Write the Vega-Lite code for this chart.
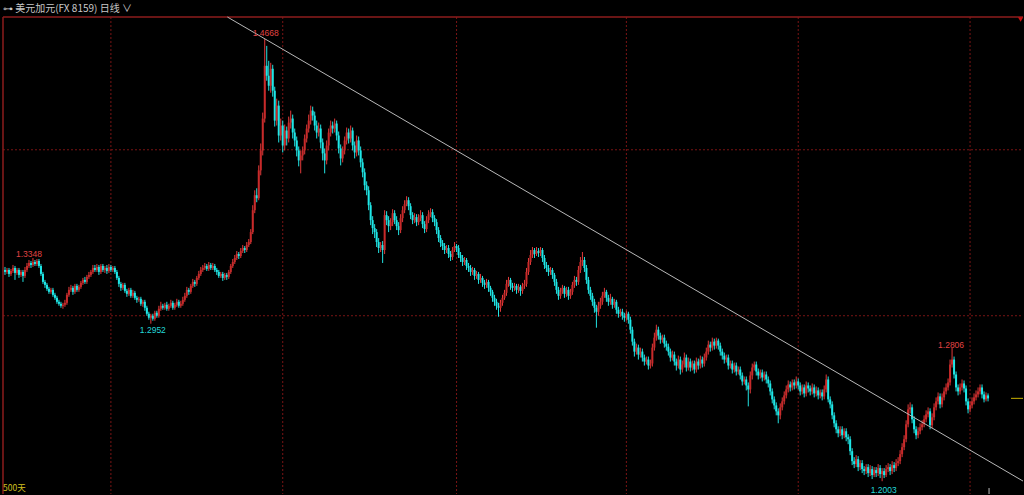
{
"$schema": "https://vega.github.io/schema/vega-lite/v6.json",
"width": 1024, "height": 495,
"autosize": {"type": "fit", "contains": "padding"},
"padding": {"left": 0, "right": 0, "top": 4, "bottom": 0},
"background": "#000000",
"title": {"text": "⊶ 美元加元(FX 8159)   日线 ∨", "anchor": "start", "frame": "group", "fontSize": 10, "font": "Noto Sans CJK SC", "fontWeight": "normal", "color": "#c8c8c8", "offset": 2, "dx": 3},
"config": {"view": {"stroke": null}},
"datasets": {
"k": [
{"i":0,"o":1.3276,"h":1.3294,"l":1.3246,"c":1.3264},
{"i":1,"o":1.3264,"h":1.3288,"l":1.3252,"c":1.3276},
{"i":2,"o":1.3276,"h":1.3288,"l":1.3234,"c":1.3252},
{"i":3,"o":1.3252,"h":1.3282,"l":1.3240,"c":1.3270},
{"i":4,"o":1.3270,"h":1.3306,"l":1.3258,"c":1.3288},
{"i":5,"o":1.3288,"h":1.3300,"l":1.3216,"c":1.3258},
{"i":6,"o":1.3258,"h":1.3288,"l":1.3246,"c":1.3276},
{"i":7,"o":1.3276,"h":1.3288,"l":1.3228,"c":1.3246},
{"i":8,"o":1.3246,"h":1.3276,"l":1.3234,"c":1.3264},
{"i":9,"o":1.3264,"h":1.3276,"l":1.3204,"c":1.3240},
{"i":10,"o":1.3240,"h":1.3294,"l":1.3228,"c":1.3276},
{"i":11,"o":1.3276,"h":1.3318,"l":1.3264,"c":1.3300},
{"i":12,"o":1.3300,"h":1.3336,"l":1.3288,"c":1.3318},
{"i":13,"o":1.3318,"h":1.3330,"l":1.3288,"c":1.3306},
{"i":14,"o":1.3306,"h":1.3348,"l":1.3294,"c":1.3324},
{"i":15,"o":1.3324,"h":1.3336,"l":1.3300,"c":1.3312},
{"i":16,"o":1.3312,"h":1.3342,"l":1.3300,"c":1.3330},
{"i":17,"o":1.3330,"h":1.3342,"l":1.3288,"c":1.3300},
{"i":18,"o":1.3300,"h":1.3312,"l":1.3240,"c":1.3252},
{"i":19,"o":1.3252,"h":1.3264,"l":1.3192,"c":1.3204},
{"i":20,"o":1.3204,"h":1.3216,"l":1.3168,"c":1.3186},
{"i":21,"o":1.3186,"h":1.3198,"l":1.3150,"c":1.3162},
{"i":22,"o":1.3162,"h":1.3174,"l":1.3132,"c":1.3144},
{"i":23,"o":1.3144,"h":1.3168,"l":1.3132,"c":1.3156},
{"i":24,"o":1.3156,"h":1.3168,"l":1.3114,"c":1.3126},
{"i":25,"o":1.3126,"h":1.3138,"l":1.3096,"c":1.3108},
{"i":26,"o":1.3108,"h":1.3120,"l":1.3072,"c":1.3084},
{"i":27,"o":1.3084,"h":1.3096,"l":1.3060,"c":1.3072},
{"i":28,"o":1.3072,"h":1.3084,"l":1.3048,"c":1.3060},
{"i":29,"o":1.3060,"h":1.3078,"l":1.3042,"c":1.3066},
{"i":30,"o":1.3066,"h":1.3096,"l":1.3054,"c":1.3078},
{"i":31,"o":1.3078,"h":1.3138,"l":1.3066,"c":1.3126},
{"i":32,"o":1.3126,"h":1.3174,"l":1.3114,"c":1.3156},
{"i":33,"o":1.3156,"h":1.3186,"l":1.3144,"c":1.3168},
{"i":34,"o":1.3168,"h":1.3180,"l":1.3126,"c":1.3144},
{"i":35,"o":1.3144,"h":1.3192,"l":1.3132,"c":1.3180},
{"i":36,"o":1.3180,"h":1.3192,"l":1.3144,"c":1.3156},
{"i":37,"o":1.3156,"h":1.3186,"l":1.3144,"c":1.3174},
{"i":38,"o":1.3174,"h":1.3210,"l":1.3162,"c":1.3198},
{"i":39,"o":1.3198,"h":1.3228,"l":1.3186,"c":1.3216},
{"i":40,"o":1.3216,"h":1.3234,"l":1.3192,"c":1.3204},
{"i":41,"o":1.3204,"h":1.3246,"l":1.3192,"c":1.3234},
{"i":42,"o":1.3234,"h":1.3264,"l":1.3222,"c":1.3246},
{"i":43,"o":1.3246,"h":1.3276,"l":1.3234,"c":1.3264},
{"i":44,"o":1.3264,"h":1.3306,"l":1.3252,"c":1.3288},
{"i":45,"o":1.3288,"h":1.3306,"l":1.3264,"c":1.3276},
{"i":46,"o":1.3276,"h":1.3312,"l":1.3264,"c":1.3294},
{"i":47,"o":1.3294,"h":1.3306,"l":1.3246,"c":1.3264},
{"i":48,"o":1.3264,"h":1.3312,"l":1.3252,"c":1.3300},
{"i":49,"o":1.3300,"h":1.3312,"l":1.3264,"c":1.3276},
{"i":50,"o":1.3276,"h":1.3300,"l":1.3258,"c":1.3288},
{"i":51,"o":1.3288,"h":1.3306,"l":1.3252,"c":1.3270},
{"i":52,"o":1.3270,"h":1.3312,"l":1.3258,"c":1.3294},
{"i":53,"o":1.3294,"h":1.3306,"l":1.3264,"c":1.3276},
{"i":54,"o":1.3276,"h":1.3300,"l":1.3264,"c":1.3288},
{"i":55,"o":1.3288,"h":1.3300,"l":1.3252,"c":1.3264},
{"i":56,"o":1.3264,"h":1.3276,"l":1.3216,"c":1.3228},
{"i":57,"o":1.3228,"h":1.3240,"l":1.3174,"c":1.3192},
{"i":58,"o":1.3192,"h":1.3204,"l":1.3150,"c":1.3168},
{"i":59,"o":1.3168,"h":1.3198,"l":1.3156,"c":1.3186},
{"i":60,"o":1.3186,"h":1.3198,"l":1.3138,"c":1.3150},
{"i":61,"o":1.3150,"h":1.3162,"l":1.3114,"c":1.3132},
{"i":62,"o":1.3132,"h":1.3168,"l":1.3120,"c":1.3156},
{"i":63,"o":1.3156,"h":1.3168,"l":1.3108,"c":1.3120},
{"i":64,"o":1.3120,"h":1.3156,"l":1.3108,"c":1.3138},
{"i":65,"o":1.3138,"h":1.3150,"l":1.3096,"c":1.3108},
{"i":66,"o":1.3108,"h":1.3120,"l":1.3078,"c":1.3096},
{"i":67,"o":1.3096,"h":1.3114,"l":1.3084,"c":1.3102},
{"i":68,"o":1.3102,"h":1.3114,"l":1.3060,"c":1.3072},
{"i":69,"o":1.3072,"h":1.3096,"l":1.3054,"c":1.3084},
{"i":70,"o":1.3084,"h":1.3096,"l":1.3030,"c":1.3048},
{"i":71,"o":1.3048,"h":1.3060,"l":1.3000,"c":1.3012},
{"i":72,"o":1.3012,"h":1.3024,"l":1.2976,"c":1.2988},
{"i":73,"o":1.2988,"h":1.3012,"l":1.2952,"c":1.3000},
{"i":74,"o":1.3000,"h":1.3012,"l":1.2970,"c":1.2982},
{"i":75,"o":1.2982,"h":1.3030,"l":1.2970,"c":1.3018},
{"i":76,"o":1.3018,"h":1.3030,"l":1.2988,"c":1.3000},
{"i":77,"o":1.3000,"h":1.3060,"l":1.2988,"c":1.3042},
{"i":78,"o":1.3042,"h":1.3084,"l":1.3030,"c":1.3060},
{"i":79,"o":1.3060,"h":1.3072,"l":1.3036,"c":1.3048},
{"i":80,"o":1.3048,"h":1.3078,"l":1.3036,"c":1.3066},
{"i":81,"o":1.3066,"h":1.3084,"l":1.3030,"c":1.3042},
{"i":82,"o":1.3042,"h":1.3072,"l":1.3030,"c":1.3060},
{"i":83,"o":1.3060,"h":1.3096,"l":1.3048,"c":1.3078},
{"i":84,"o":1.3078,"h":1.3090,"l":1.3036,"c":1.3048},
{"i":85,"o":1.3048,"h":1.3078,"l":1.3036,"c":1.3066},
{"i":86,"o":1.3066,"h":1.3102,"l":1.3054,"c":1.3084},
{"i":87,"o":1.3084,"h":1.3096,"l":1.3048,"c":1.3060},
{"i":88,"o":1.3060,"h":1.3090,"l":1.3048,"c":1.3072},
{"i":89,"o":1.3072,"h":1.3114,"l":1.3060,"c":1.3096},
{"i":90,"o":1.3096,"h":1.3138,"l":1.3084,"c":1.3120},
{"i":91,"o":1.3120,"h":1.3174,"l":1.3108,"c":1.3156},
{"i":92,"o":1.3156,"h":1.3168,"l":1.3126,"c":1.3144},
{"i":93,"o":1.3144,"h":1.3192,"l":1.3132,"c":1.3180},
{"i":94,"o":1.3180,"h":1.3222,"l":1.3168,"c":1.3204},
{"i":95,"o":1.3204,"h":1.3216,"l":1.3174,"c":1.3192},
{"i":96,"o":1.3192,"h":1.3240,"l":1.3180,"c":1.3228},
{"i":97,"o":1.3228,"h":1.3270,"l":1.3216,"c":1.3252},
{"i":98,"o":1.3252,"h":1.3294,"l":1.3240,"c":1.3276},
{"i":99,"o":1.3276,"h":1.3306,"l":1.3264,"c":1.3288},
{"i":100,"o":1.3288,"h":1.3318,"l":1.3276,"c":1.3300},
{"i":101,"o":1.3300,"h":1.3312,"l":1.3270,"c":1.3282},
{"i":102,"o":1.3282,"h":1.3324,"l":1.3270,"c":1.3306},
{"i":103,"o":1.3306,"h":1.3318,"l":1.3276,"c":1.3288},
{"i":104,"o":1.3288,"h":1.3318,"l":1.3276,"c":1.3300},
{"i":105,"o":1.3300,"h":1.3312,"l":1.3264,"c":1.3276},
{"i":106,"o":1.3276,"h":1.3288,"l":1.3246,"c":1.3264},
{"i":107,"o":1.3264,"h":1.3276,"l":1.3228,"c":1.3240},
{"i":108,"o":1.3240,"h":1.3264,"l":1.3228,"c":1.3252},
{"i":109,"o":1.3252,"h":1.3264,"l":1.3210,"c":1.3228},
{"i":110,"o":1.3228,"h":1.3258,"l":1.3216,"c":1.3246},
{"i":111,"o":1.3246,"h":1.3258,"l":1.3216,"c":1.3234},
{"i":112,"o":1.3234,"h":1.3276,"l":1.3222,"c":1.3264},
{"i":113,"o":1.3264,"h":1.3312,"l":1.3252,"c":1.3300},
{"i":114,"o":1.3300,"h":1.3342,"l":1.3288,"c":1.3324},
{"i":115,"o":1.3324,"h":1.3366,"l":1.3312,"c":1.3348},
{"i":116,"o":1.3348,"h":1.3390,"l":1.3336,"c":1.3372},
{"i":117,"o":1.3372,"h":1.3384,"l":1.3342,"c":1.3360},
{"i":118,"o":1.3360,"h":1.3408,"l":1.3348,"c":1.3390},
{"i":119,"o":1.3390,"h":1.3426,"l":1.3378,"c":1.3408},
{"i":120,"o":1.3408,"h":1.3420,"l":1.3378,"c":1.3396},
{"i":121,"o":1.3396,"h":1.3444,"l":1.3384,"c":1.3426},
{"i":122,"o":1.3426,"h":1.3462,"l":1.3414,"c":1.3444},
{"i":123,"o":1.3444,"h":1.3522,"l":1.3432,"c":1.3504},
{"i":124,"o":1.3504,"h":1.3666,"l":1.3492,"c":1.3636},
{"i":125,"o":1.3636,"h":1.3756,"l":1.3618,"c":1.3726},
{"i":126,"o":1.3726,"h":1.3768,"l":1.3684,"c":1.3708},
{"i":127,"o":1.3708,"h":1.3906,"l":1.3696,"c":1.3876},
{"i":128,"o":1.3876,"h":1.4038,"l":1.3846,"c":1.3996},
{"i":129,"o":1.3996,"h":1.4224,"l":1.3966,"c":1.4188},
{"i":130,"o":1.4188,"h":1.4668,"l":1.4164,"c":1.4506},
{"i":131,"o":1.4506,"h":1.4626,"l":1.4416,"c":1.4446},
{"i":132,"o":1.4446,"h":1.4536,"l":1.4356,"c":1.4386},
{"i":133,"o":1.4386,"h":1.4524,"l":1.4344,"c":1.4488},
{"i":134,"o":1.4488,"h":1.4512,"l":1.4320,"c":1.4356},
{"i":135,"o":1.4356,"h":1.4380,"l":1.4140,"c":1.4176},
{"i":136,"o":1.4176,"h":1.4308,"l":1.4146,"c":1.4266},
{"i":137,"o":1.4266,"h":1.4296,"l":1.4044,"c":1.4086},
{"i":138,"o":1.4086,"h":1.4188,"l":1.4056,"c":1.4146},
{"i":139,"o":1.4146,"h":1.4176,"l":1.3984,"c":1.4026},
{"i":140,"o":1.4026,"h":1.4152,"l":1.3996,"c":1.4116},
{"i":141,"o":1.4116,"h":1.4140,"l":1.4026,"c":1.4068},
{"i":142,"o":1.4068,"h":1.4200,"l":1.4044,"c":1.4164},
{"i":143,"o":1.4164,"h":1.4236,"l":1.4128,"c":1.4188},
{"i":144,"o":1.4188,"h":1.4212,"l":1.4068,"c":1.4104},
{"i":145,"o":1.4104,"h":1.4128,"l":1.4020,"c":1.4056},
{"i":146,"o":1.4056,"h":1.4080,"l":1.3960,"c":1.3996},
{"i":147,"o":1.3996,"h":1.4020,"l":1.3900,"c":1.3936},
{"i":148,"o":1.3936,"h":1.3996,"l":1.3858,"c":1.3966},
{"i":149,"o":1.3966,"h":1.4020,"l":1.3936,"c":1.3996},
{"i":150,"o":1.3996,"h":1.4092,"l":1.3972,"c":1.4068},
{"i":151,"o":1.4068,"h":1.4152,"l":1.4044,"c":1.4128},
{"i":152,"o":1.4128,"h":1.4212,"l":1.4104,"c":1.4176},
{"i":153,"o":1.4176,"h":1.4266,"l":1.4152,"c":1.4236},
{"i":154,"o":1.4236,"h":1.4260,"l":1.4176,"c":1.4206},
{"i":155,"o":1.4206,"h":1.4230,"l":1.4116,"c":1.4146},
{"i":156,"o":1.4146,"h":1.4176,"l":1.4068,"c":1.4104},
{"i":157,"o":1.4104,"h":1.4164,"l":1.4080,"c":1.4128},
{"i":158,"o":1.4128,"h":1.4152,"l":1.4008,"c":1.4044},
{"i":159,"o":1.4044,"h":1.4068,"l":1.3936,"c":1.3978},
{"i":160,"o":1.3978,"h":1.4008,"l":1.3858,"c":1.3936},
{"i":161,"o":1.3936,"h":1.4056,"l":1.3912,"c":1.4026},
{"i":162,"o":1.4026,"h":1.4128,"l":1.3996,"c":1.4104},
{"i":163,"o":1.4104,"h":1.4176,"l":1.4080,"c":1.4146},
{"i":164,"o":1.4146,"h":1.4170,"l":1.4098,"c":1.4128},
{"i":165,"o":1.4128,"h":1.4188,"l":1.4104,"c":1.4158},
{"i":166,"o":1.4158,"h":1.4176,"l":1.4056,"c":1.4086},
{"i":167,"o":1.4086,"h":1.4110,"l":1.3978,"c":1.4008},
{"i":168,"o":1.4008,"h":1.4032,"l":1.3906,"c":1.3948},
{"i":169,"o":1.3948,"h":1.4020,"l":1.3924,"c":1.3996},
{"i":170,"o":1.3996,"h":1.4080,"l":1.3972,"c":1.4056},
{"i":171,"o":1.4056,"h":1.4134,"l":1.4032,"c":1.4104},
{"i":172,"o":1.4104,"h":1.4128,"l":1.4038,"c":1.4068},
{"i":173,"o":1.4068,"h":1.4146,"l":1.4044,"c":1.4116},
{"i":174,"o":1.4116,"h":1.4134,"l":1.3996,"c":1.4026},
{"i":175,"o":1.4026,"h":1.4050,"l":1.3948,"c":1.3984},
{"i":176,"o":1.3984,"h":1.4086,"l":1.3960,"c":1.4056},
{"i":177,"o":1.4056,"h":1.4080,"l":1.3966,"c":1.3996},
{"i":178,"o":1.3996,"h":1.4020,"l":1.3894,"c":1.3924},
{"i":179,"o":1.3924,"h":1.3948,"l":1.3834,"c":1.3864},
{"i":180,"o":1.3864,"h":1.3888,"l":1.3756,"c":1.3786},
{"i":181,"o":1.3786,"h":1.3810,"l":1.3726,"c":1.3756},
{"i":182,"o":1.3756,"h":1.3780,"l":1.3636,"c":1.3666},
{"i":183,"o":1.3666,"h":1.3684,"l":1.3546,"c":1.3576},
{"i":184,"o":1.3576,"h":1.3600,"l":1.3492,"c":1.3528},
{"i":185,"o":1.3528,"h":1.3552,"l":1.3468,"c":1.3504},
{"i":186,"o":1.3504,"h":1.3522,"l":1.3414,"c":1.3444},
{"i":187,"o":1.3444,"h":1.3468,"l":1.3378,"c":1.3408},
{"i":188,"o":1.3408,"h":1.3444,"l":1.3384,"c":1.3426},
{"i":189,"o":1.3426,"h":1.3450,"l":1.3318,"c":1.3396},
{"i":190,"o":1.3396,"h":1.3636,"l":1.3372,"c":1.3606},
{"i":191,"o":1.3606,"h":1.3630,"l":1.3546,"c":1.3576},
{"i":192,"o":1.3576,"h":1.3600,"l":1.3504,"c":1.3540},
{"i":193,"o":1.3540,"h":1.3588,"l":1.3516,"c":1.3564},
{"i":194,"o":1.3564,"h":1.3642,"l":1.3540,"c":1.3618},
{"i":195,"o":1.3618,"h":1.3636,"l":1.3552,"c":1.3576},
{"i":196,"o":1.3576,"h":1.3600,"l":1.3516,"c":1.3540},
{"i":197,"o":1.3540,"h":1.3564,"l":1.3486,"c":1.3516},
{"i":198,"o":1.3516,"h":1.3612,"l":1.3498,"c":1.3588},
{"i":199,"o":1.3588,"h":1.3660,"l":1.3564,"c":1.3636},
{"i":200,"o":1.3636,"h":1.3696,"l":1.3618,"c":1.3672},
{"i":201,"o":1.3672,"h":1.3720,"l":1.3660,"c":1.3696},
{"i":202,"o":1.3696,"h":1.3714,"l":1.3636,"c":1.3660},
{"i":203,"o":1.3660,"h":1.3678,"l":1.3582,"c":1.3606},
{"i":204,"o":1.3606,"h":1.3624,"l":1.3552,"c":1.3576},
{"i":205,"o":1.3576,"h":1.3618,"l":1.3558,"c":1.3594},
{"i":206,"o":1.3594,"h":1.3612,"l":1.3540,"c":1.3564},
{"i":207,"o":1.3564,"h":1.3612,"l":1.3546,"c":1.3588},
{"i":208,"o":1.3588,"h":1.3636,"l":1.3570,"c":1.3606},
{"i":209,"o":1.3606,"h":1.3624,"l":1.3528,"c":1.3552},
{"i":210,"o":1.3552,"h":1.3570,"l":1.3498,"c":1.3522},
{"i":211,"o":1.3522,"h":1.3600,"l":1.3504,"c":1.3576},
{"i":212,"o":1.3576,"h":1.3636,"l":1.3558,"c":1.3612},
{"i":213,"o":1.3612,"h":1.3648,"l":1.3594,"c":1.3624},
{"i":214,"o":1.3624,"h":1.3642,"l":1.3564,"c":1.3588},
{"i":215,"o":1.3588,"h":1.3606,"l":1.3540,"c":1.3564},
{"i":216,"o":1.3564,"h":1.3582,"l":1.3492,"c":1.3516},
{"i":217,"o":1.3516,"h":1.3534,"l":1.3444,"c":1.3468},
{"i":218,"o":1.3468,"h":1.3486,"l":1.3414,"c":1.3438},
{"i":219,"o":1.3438,"h":1.3456,"l":1.3396,"c":1.3420},
{"i":220,"o":1.3420,"h":1.3438,"l":1.3372,"c":1.3396},
{"i":221,"o":1.3396,"h":1.3426,"l":1.3378,"c":1.3408},
{"i":222,"o":1.3408,"h":1.3426,"l":1.3348,"c":1.3372},
{"i":223,"o":1.3372,"h":1.3390,"l":1.3330,"c":1.3354},
{"i":224,"o":1.3354,"h":1.3414,"l":1.3336,"c":1.3396},
{"i":225,"o":1.3396,"h":1.3444,"l":1.3384,"c":1.3420},
{"i":226,"o":1.3420,"h":1.3432,"l":1.3384,"c":1.3408},
{"i":227,"o":1.3408,"h":1.3426,"l":1.3348,"c":1.3366},
{"i":228,"o":1.3366,"h":1.3384,"l":1.3324,"c":1.3348},
{"i":229,"o":1.3348,"h":1.3366,"l":1.3300,"c":1.3324},
{"i":230,"o":1.3324,"h":1.3354,"l":1.3306,"c":1.3336},
{"i":231,"o":1.3336,"h":1.3348,"l":1.3276,"c":1.3300},
{"i":232,"o":1.3300,"h":1.3318,"l":1.3264,"c":1.3288},
{"i":233,"o":1.3288,"h":1.3306,"l":1.3240,"c":1.3264},
{"i":234,"o":1.3264,"h":1.3294,"l":1.3246,"c":1.3276},
{"i":235,"o":1.3276,"h":1.3288,"l":1.3216,"c":1.3240},
{"i":236,"o":1.3240,"h":1.3270,"l":1.3222,"c":1.3252},
{"i":237,"o":1.3252,"h":1.3264,"l":1.3192,"c":1.3216},
{"i":238,"o":1.3216,"h":1.3252,"l":1.3198,"c":1.3228},
{"i":239,"o":1.3228,"h":1.3240,"l":1.3174,"c":1.3198},
{"i":240,"o":1.3198,"h":1.3216,"l":1.3162,"c":1.3186},
{"i":241,"o":1.3186,"h":1.3222,"l":1.3168,"c":1.3204},
{"i":242,"o":1.3204,"h":1.3216,"l":1.3144,"c":1.3168},
{"i":243,"o":1.3168,"h":1.3180,"l":1.3120,"c":1.3144},
{"i":244,"o":1.3144,"h":1.3156,"l":1.3084,"c":1.3108},
{"i":245,"o":1.3108,"h":1.3126,"l":1.3060,"c":1.3084},
{"i":246,"o":1.3084,"h":1.3102,"l":1.3036,"c":1.3060},
{"i":247,"o":1.3060,"h":1.3078,"l":1.2994,"c":1.3048},
{"i":248,"o":1.3048,"h":1.3096,"l":1.3024,"c":1.3078},
{"i":249,"o":1.3078,"h":1.3126,"l":1.3060,"c":1.3108},
{"i":250,"o":1.3108,"h":1.3156,"l":1.3096,"c":1.3138},
{"i":251,"o":1.3138,"h":1.3216,"l":1.3120,"c":1.3192},
{"i":252,"o":1.3192,"h":1.3234,"l":1.3174,"c":1.3216},
{"i":253,"o":1.3216,"h":1.3228,"l":1.3156,"c":1.3180},
{"i":254,"o":1.3180,"h":1.3198,"l":1.3144,"c":1.3168},
{"i":255,"o":1.3168,"h":1.3198,"l":1.3150,"c":1.3180},
{"i":256,"o":1.3180,"h":1.3192,"l":1.3132,"c":1.3156},
{"i":257,"o":1.3156,"h":1.3192,"l":1.3138,"c":1.3174},
{"i":258,"o":1.3174,"h":1.3186,"l":1.3120,"c":1.3150},
{"i":259,"o":1.3150,"h":1.3198,"l":1.3132,"c":1.3180},
{"i":260,"o":1.3180,"h":1.3216,"l":1.3162,"c":1.3192},
{"i":261,"o":1.3192,"h":1.3288,"l":1.3174,"c":1.3264},
{"i":262,"o":1.3264,"h":1.3348,"l":1.3246,"c":1.3324},
{"i":263,"o":1.3324,"h":1.3396,"l":1.3306,"c":1.3366},
{"i":264,"o":1.3366,"h":1.3414,"l":1.3348,"c":1.3396},
{"i":265,"o":1.3396,"h":1.3408,"l":1.3348,"c":1.3372},
{"i":266,"o":1.3372,"h":1.3414,"l":1.3360,"c":1.3390},
{"i":267,"o":1.3390,"h":1.3408,"l":1.3354,"c":1.3378},
{"i":268,"o":1.3378,"h":1.3414,"l":1.3360,"c":1.3396},
{"i":269,"o":1.3396,"h":1.3408,"l":1.3324,"c":1.3348},
{"i":270,"o":1.3348,"h":1.3366,"l":1.3282,"c":1.3306},
{"i":271,"o":1.3306,"h":1.3324,"l":1.3264,"c":1.3288},
{"i":272,"o":1.3288,"h":1.3306,"l":1.3240,"c":1.3264},
{"i":273,"o":1.3264,"h":1.3294,"l":1.3246,"c":1.3276},
{"i":274,"o":1.3276,"h":1.3288,"l":1.3222,"c":1.3246},
{"i":275,"o":1.3246,"h":1.3258,"l":1.3180,"c":1.3204},
{"i":276,"o":1.3204,"h":1.3222,"l":1.3132,"c":1.3156},
{"i":277,"o":1.3156,"h":1.3174,"l":1.3096,"c":1.3120},
{"i":278,"o":1.3120,"h":1.3168,"l":1.3102,"c":1.3144},
{"i":279,"o":1.3144,"h":1.3186,"l":1.3132,"c":1.3168},
{"i":280,"o":1.3168,"h":1.3180,"l":1.3108,"c":1.3132},
{"i":281,"o":1.3132,"h":1.3174,"l":1.3114,"c":1.3156},
{"i":282,"o":1.3156,"h":1.3174,"l":1.3096,"c":1.3120},
{"i":283,"o":1.3120,"h":1.3162,"l":1.3102,"c":1.3144},
{"i":284,"o":1.3144,"h":1.3204,"l":1.3126,"c":1.3186},
{"i":285,"o":1.3186,"h":1.3240,"l":1.3168,"c":1.3216},
{"i":286,"o":1.3216,"h":1.3234,"l":1.3180,"c":1.3204},
{"i":287,"o":1.3204,"h":1.3300,"l":1.3186,"c":1.3276},
{"i":288,"o":1.3276,"h":1.3354,"l":1.3258,"c":1.3324},
{"i":289,"o":1.3324,"h":1.3384,"l":1.3300,"c":1.3336},
{"i":290,"o":1.3336,"h":1.3354,"l":1.3264,"c":1.3288},
{"i":291,"o":1.3288,"h":1.3306,"l":1.3192,"c":1.3216},
{"i":292,"o":1.3216,"h":1.3234,"l":1.3132,"c":1.3156},
{"i":293,"o":1.3156,"h":1.3174,"l":1.3096,"c":1.3120},
{"i":294,"o":1.3120,"h":1.3138,"l":1.3060,"c":1.3084},
{"i":295,"o":1.3084,"h":1.3102,"l":1.3018,"c":1.3048},
{"i":296,"o":1.3048,"h":1.3066,"l":1.2928,"c":1.3024},
{"i":297,"o":1.3024,"h":1.3084,"l":1.3000,"c":1.3060},
{"i":298,"o":1.3060,"h":1.3108,"l":1.3042,"c":1.3084},
{"i":299,"o":1.3084,"h":1.3144,"l":1.3066,"c":1.3120},
{"i":300,"o":1.3120,"h":1.3168,"l":1.3108,"c":1.3144},
{"i":301,"o":1.3144,"h":1.3156,"l":1.3084,"c":1.3108},
{"i":302,"o":1.3108,"h":1.3126,"l":1.3060,"c":1.3084},
{"i":303,"o":1.3084,"h":1.3132,"l":1.3066,"c":1.3102},
{"i":304,"o":1.3102,"h":1.3114,"l":1.3042,"c":1.3066},
{"i":305,"o":1.3066,"h":1.3102,"l":1.3048,"c":1.3084},
{"i":306,"o":1.3084,"h":1.3096,"l":1.3012,"c":1.3036},
{"i":307,"o":1.3036,"h":1.3054,"l":1.2988,"c":1.3012},
{"i":308,"o":1.3012,"h":1.3042,"l":1.2994,"c":1.3024},
{"i":309,"o":1.3024,"h":1.3042,"l":1.2976,"c":1.3000},
{"i":310,"o":1.3000,"h":1.3018,"l":1.2964,"c":1.2988},
{"i":311,"o":1.2988,"h":1.3030,"l":1.2970,"c":1.3012},
{"i":312,"o":1.3012,"h":1.3024,"l":1.2952,"c":1.2976},
{"i":313,"o":1.2976,"h":1.2994,"l":1.2892,"c":1.2916},
{"i":314,"o":1.2916,"h":1.2934,"l":1.2820,"c":1.2844},
{"i":315,"o":1.2844,"h":1.2862,"l":1.2754,"c":1.2784},
{"i":316,"o":1.2784,"h":1.2832,"l":1.2766,"c":1.2808},
{"i":317,"o":1.2808,"h":1.2826,"l":1.2736,"c":1.2766},
{"i":318,"o":1.2766,"h":1.2808,"l":1.2748,"c":1.2784},
{"i":319,"o":1.2784,"h":1.2802,"l":1.2724,"c":1.2748},
{"i":320,"o":1.2748,"h":1.2766,"l":1.2700,"c":1.2724},
{"i":321,"o":1.2724,"h":1.2754,"l":1.2706,"c":1.2736},
{"i":322,"o":1.2736,"h":1.2754,"l":1.2676,"c":1.2700},
{"i":323,"o":1.2700,"h":1.2736,"l":1.2682,"c":1.2712},
{"i":324,"o":1.2712,"h":1.2832,"l":1.2694,"c":1.2808},
{"i":325,"o":1.2808,"h":1.2898,"l":1.2790,"c":1.2868},
{"i":326,"o":1.2868,"h":1.2946,"l":1.2850,"c":1.2916},
{"i":327,"o":1.2916,"h":1.2934,"l":1.2856,"c":1.2880},
{"i":328,"o":1.2880,"h":1.2898,"l":1.2832,"c":1.2856},
{"i":329,"o":1.2856,"h":1.2886,"l":1.2838,"c":1.2868},
{"i":330,"o":1.2868,"h":1.2886,"l":1.2808,"c":1.2832},
{"i":331,"o":1.2832,"h":1.2850,"l":1.2790,"c":1.2814},
{"i":332,"o":1.2814,"h":1.2832,"l":1.2760,"c":1.2784},
{"i":333,"o":1.2784,"h":1.2802,"l":1.2724,"c":1.2748},
{"i":334,"o":1.2748,"h":1.2790,"l":1.2730,"c":1.2766},
{"i":335,"o":1.2766,"h":1.2784,"l":1.2700,"c":1.2724},
{"i":336,"o":1.2724,"h":1.2742,"l":1.2670,"c":1.2700},
{"i":337,"o":1.2700,"h":1.2760,"l":1.2682,"c":1.2736},
{"i":338,"o":1.2736,"h":1.2754,"l":1.2646,"c":1.2676},
{"i":339,"o":1.2676,"h":1.2730,"l":1.2658,"c":1.2706},
{"i":340,"o":1.2706,"h":1.2778,"l":1.2688,"c":1.2748},
{"i":341,"o":1.2748,"h":1.2766,"l":1.2664,"c":1.2688},
{"i":342,"o":1.2688,"h":1.2748,"l":1.2670,"c":1.2724},
{"i":343,"o":1.2724,"h":1.2742,"l":1.2664,"c":1.2688},
{"i":344,"o":1.2688,"h":1.2730,"l":1.2670,"c":1.2712},
{"i":345,"o":1.2712,"h":1.2730,"l":1.2652,"c":1.2676},
{"i":346,"o":1.2676,"h":1.2748,"l":1.2658,"c":1.2724},
{"i":347,"o":1.2724,"h":1.2742,"l":1.2676,"c":1.2700},
{"i":348,"o":1.2700,"h":1.2760,"l":1.2682,"c":1.2736},
{"i":349,"o":1.2736,"h":1.2754,"l":1.2688,"c":1.2712},
{"i":350,"o":1.2712,"h":1.2772,"l":1.2694,"c":1.2748},
{"i":351,"o":1.2748,"h":1.2808,"l":1.2730,"c":1.2784},
{"i":352,"o":1.2784,"h":1.2850,"l":1.2766,"c":1.2826},
{"i":353,"o":1.2826,"h":1.2844,"l":1.2784,"c":1.2808},
{"i":354,"o":1.2808,"h":1.2868,"l":1.2790,"c":1.2844},
{"i":355,"o":1.2844,"h":1.2862,"l":1.2796,"c":1.2820},
{"i":356,"o":1.2820,"h":1.2868,"l":1.2802,"c":1.2850},
{"i":357,"o":1.2850,"h":1.2862,"l":1.2796,"c":1.2820},
{"i":358,"o":1.2820,"h":1.2838,"l":1.2760,"c":1.2784},
{"i":359,"o":1.2784,"h":1.2802,"l":1.2736,"c":1.2760},
{"i":360,"o":1.2760,"h":1.2778,"l":1.2712,"c":1.2736},
{"i":361,"o":1.2736,"h":1.2766,"l":1.2718,"c":1.2748},
{"i":362,"o":1.2748,"h":1.2766,"l":1.2676,"c":1.2700},
{"i":363,"o":1.2700,"h":1.2730,"l":1.2682,"c":1.2712},
{"i":364,"o":1.2712,"h":1.2730,"l":1.2652,"c":1.2676},
{"i":365,"o":1.2676,"h":1.2718,"l":1.2658,"c":1.2700},
{"i":366,"o":1.2700,"h":1.2718,"l":1.2640,"c":1.2664},
{"i":367,"o":1.2664,"h":1.2694,"l":1.2646,"c":1.2676},
{"i":368,"o":1.2676,"h":1.2694,"l":1.2616,"c":1.2640},
{"i":369,"o":1.2640,"h":1.2658,"l":1.2580,"c":1.2604},
{"i":370,"o":1.2604,"h":1.2634,"l":1.2586,"c":1.2616},
{"i":371,"o":1.2616,"h":1.2634,"l":1.2550,"c":1.2580},
{"i":372,"o":1.2580,"h":1.2598,"l":1.2454,"c":1.2556},
{"i":373,"o":1.2556,"h":1.2664,"l":1.2532,"c":1.2640},
{"i":374,"o":1.2640,"h":1.2712,"l":1.2616,"c":1.2688},
{"i":375,"o":1.2688,"h":1.2724,"l":1.2670,"c":1.2706},
{"i":376,"o":1.2706,"h":1.2724,"l":1.2640,"c":1.2664},
{"i":377,"o":1.2664,"h":1.2682,"l":1.2616,"c":1.2640},
{"i":378,"o":1.2640,"h":1.2676,"l":1.2622,"c":1.2658},
{"i":379,"o":1.2658,"h":1.2676,"l":1.2604,"c":1.2628},
{"i":380,"o":1.2628,"h":1.2664,"l":1.2610,"c":1.2646},
{"i":381,"o":1.2646,"h":1.2664,"l":1.2592,"c":1.2616},
{"i":382,"o":1.2616,"h":1.2634,"l":1.2568,"c":1.2592},
{"i":383,"o":1.2592,"h":1.2610,"l":1.2520,"c":1.2544},
{"i":384,"o":1.2544,"h":1.2562,"l":1.2472,"c":1.2496},
{"i":385,"o":1.2496,"h":1.2514,"l":1.2436,"c":1.2460},
{"i":386,"o":1.2460,"h":1.2478,"l":1.2400,"c":1.2424},
{"i":387,"o":1.2424,"h":1.2442,"l":1.2352,"c":1.2400},
{"i":388,"o":1.2400,"h":1.2472,"l":1.2376,"c":1.2448},
{"i":389,"o":1.2448,"h":1.2508,"l":1.2430,"c":1.2484},
{"i":390,"o":1.2484,"h":1.2544,"l":1.2466,"c":1.2520},
{"i":391,"o":1.2520,"h":1.2580,"l":1.2502,"c":1.2556},
{"i":392,"o":1.2556,"h":1.2610,"l":1.2538,"c":1.2586},
{"i":393,"o":1.2586,"h":1.2604,"l":1.2544,"c":1.2568},
{"i":394,"o":1.2568,"h":1.2616,"l":1.2550,"c":1.2598},
{"i":395,"o":1.2598,"h":1.2616,"l":1.2556,"c":1.2580},
{"i":396,"o":1.2580,"h":1.2634,"l":1.2562,"c":1.2604},
{"i":397,"o":1.2604,"h":1.2622,"l":1.2556,"c":1.2580},
{"i":398,"o":1.2580,"h":1.2598,"l":1.2520,"c":1.2544},
{"i":399,"o":1.2544,"h":1.2586,"l":1.2526,"c":1.2568},
{"i":400,"o":1.2568,"h":1.2586,"l":1.2508,"c":1.2532},
{"i":401,"o":1.2532,"h":1.2604,"l":1.2514,"c":1.2580},
{"i":402,"o":1.2580,"h":1.2598,"l":1.2538,"c":1.2562},
{"i":403,"o":1.2562,"h":1.2580,"l":1.2520,"c":1.2544},
{"i":404,"o":1.2544,"h":1.2592,"l":1.2526,"c":1.2568},
{"i":405,"o":1.2568,"h":1.2586,"l":1.2508,"c":1.2532},
{"i":406,"o":1.2532,"h":1.2574,"l":1.2514,"c":1.2550},
{"i":407,"o":1.2550,"h":1.2568,"l":1.2496,"c":1.2520},
{"i":408,"o":1.2520,"h":1.2556,"l":1.2502,"c":1.2538},
{"i":409,"o":1.2538,"h":1.2556,"l":1.2490,"c":1.2514},
{"i":410,"o":1.2514,"h":1.2580,"l":1.2496,"c":1.2556},
{"i":411,"o":1.2556,"h":1.2646,"l":1.2538,"c":1.2616},
{"i":412,"o":1.2616,"h":1.2634,"l":1.2478,"c":1.2496},
{"i":413,"o":1.2496,"h":1.2514,"l":1.2442,"c":1.2466},
{"i":414,"o":1.2466,"h":1.2484,"l":1.2376,"c":1.2400},
{"i":415,"o":1.2400,"h":1.2418,"l":1.2328,"c":1.2352},
{"i":416,"o":1.2352,"h":1.2370,"l":1.2292,"c":1.2316},
{"i":417,"o":1.2316,"h":1.2334,"l":1.2268,"c":1.2292},
{"i":418,"o":1.2292,"h":1.2334,"l":1.2274,"c":1.2316},
{"i":419,"o":1.2316,"h":1.2334,"l":1.2256,"c":1.2280},
{"i":420,"o":1.2280,"h":1.2322,"l":1.2262,"c":1.2304},
{"i":421,"o":1.2304,"h":1.2322,"l":1.2244,"c":1.2268},
{"i":422,"o":1.2268,"h":1.2286,"l":1.2226,"c":1.2256},
{"i":423,"o":1.2256,"h":1.2274,"l":1.2160,"c":1.2184},
{"i":424,"o":1.2184,"h":1.2202,"l":1.2100,"c":1.2124},
{"i":425,"o":1.2124,"h":1.2148,"l":1.2082,"c":1.2106},
{"i":426,"o":1.2106,"h":1.2160,"l":1.2088,"c":1.2136},
{"i":427,"o":1.2136,"h":1.2154,"l":1.2064,"c":1.2088},
{"i":428,"o":1.2088,"h":1.2130,"l":1.2070,"c":1.2112},
{"i":429,"o":1.2112,"h":1.2130,"l":1.2052,"c":1.2076},
{"i":430,"o":1.2076,"h":1.2094,"l":1.2040,"c":1.2064},
{"i":431,"o":1.2064,"h":1.2106,"l":1.2046,"c":1.2088},
{"i":432,"o":1.2088,"h":1.2106,"l":1.2028,"c":1.2052},
{"i":433,"o":1.2052,"h":1.2100,"l":1.2034,"c":1.2076},
{"i":434,"o":1.2076,"h":1.2094,"l":1.2016,"c":1.2040},
{"i":435,"o":1.2040,"h":1.2088,"l":1.2028,"c":1.2070},
{"i":436,"o":1.2070,"h":1.2088,"l":1.2028,"c":1.2052},
{"i":437,"o":1.2052,"h":1.2106,"l":1.2034,"c":1.2082},
{"i":438,"o":1.2082,"h":1.2100,"l":1.2022,"c":1.2046},
{"i":439,"o":1.2046,"h":1.2082,"l":1.2003,"c":1.2064},
{"i":440,"o":1.2064,"h":1.2082,"l":1.2022,"c":1.2040},
{"i":441,"o":1.2040,"h":1.2100,"l":1.2028,"c":1.2076},
{"i":442,"o":1.2076,"h":1.2112,"l":1.2058,"c":1.2088},
{"i":443,"o":1.2088,"h":1.2106,"l":1.2040,"c":1.2064},
{"i":444,"o":1.2064,"h":1.2124,"l":1.2046,"c":1.2100},
{"i":445,"o":1.2100,"h":1.2118,"l":1.2058,"c":1.2082},
{"i":446,"o":1.2082,"h":1.2136,"l":1.2064,"c":1.2112},
{"i":447,"o":1.2112,"h":1.2148,"l":1.2094,"c":1.2124},
{"i":448,"o":1.2124,"h":1.2190,"l":1.2106,"c":1.2166},
{"i":449,"o":1.2166,"h":1.2232,"l":1.2148,"c":1.2208},
{"i":450,"o":1.2208,"h":1.2280,"l":1.2190,"c":1.2256},
{"i":451,"o":1.2256,"h":1.2370,"l":1.2238,"c":1.2346},
{"i":452,"o":1.2346,"h":1.2466,"l":1.2328,"c":1.2436},
{"i":453,"o":1.2436,"h":1.2478,"l":1.2412,"c":1.2448},
{"i":454,"o":1.2448,"h":1.2466,"l":1.2352,"c":1.2376},
{"i":455,"o":1.2376,"h":1.2394,"l":1.2292,"c":1.2316},
{"i":456,"o":1.2316,"h":1.2334,"l":1.2256,"c":1.2280},
{"i":457,"o":1.2280,"h":1.2328,"l":1.2262,"c":1.2304},
{"i":458,"o":1.2304,"h":1.2352,"l":1.2286,"c":1.2328},
{"i":459,"o":1.2328,"h":1.2370,"l":1.2310,"c":1.2346},
{"i":460,"o":1.2346,"h":1.2400,"l":1.2328,"c":1.2376},
{"i":461,"o":1.2376,"h":1.2430,"l":1.2358,"c":1.2406},
{"i":462,"o":1.2406,"h":1.2448,"l":1.2388,"c":1.2424},
{"i":463,"o":1.2424,"h":1.2442,"l":1.2316,"c":1.2340},
{"i":464,"o":1.2340,"h":1.2412,"l":1.2322,"c":1.2388},
{"i":465,"o":1.2388,"h":1.2472,"l":1.2370,"c":1.2448},
{"i":466,"o":1.2448,"h":1.2508,"l":1.2430,"c":1.2484},
{"i":467,"o":1.2484,"h":1.2538,"l":1.2466,"c":1.2514},
{"i":468,"o":1.2514,"h":1.2532,"l":1.2442,"c":1.2466},
{"i":469,"o":1.2466,"h":1.2532,"l":1.2448,"c":1.2508},
{"i":470,"o":1.2508,"h":1.2568,"l":1.2490,"c":1.2544},
{"i":471,"o":1.2544,"h":1.2592,"l":1.2526,"c":1.2568},
{"i":472,"o":1.2568,"h":1.2622,"l":1.2550,"c":1.2598},
{"i":473,"o":1.2598,"h":1.2736,"l":1.2580,"c":1.2706},
{"i":474,"o":1.2706,"h":1.2806,"l":1.2688,"c":1.2736},
{"i":475,"o":1.2736,"h":1.2754,"l":1.2622,"c":1.2646},
{"i":476,"o":1.2646,"h":1.2664,"l":1.2544,"c":1.2568},
{"i":477,"o":1.2568,"h":1.2586,"l":1.2520,"c":1.2544},
{"i":478,"o":1.2544,"h":1.2592,"l":1.2526,"c":1.2568},
{"i":479,"o":1.2568,"h":1.2616,"l":1.2550,"c":1.2592},
{"i":480,"o":1.2592,"h":1.2610,"l":1.2538,"c":1.2562},
{"i":481,"o":1.2562,"h":1.2580,"l":1.2460,"c":1.2484},
{"i":482,"o":1.2484,"h":1.2502,"l":1.2412,"c":1.2436},
{"i":483,"o":1.2436,"h":1.2484,"l":1.2418,"c":1.2460},
{"i":484,"o":1.2460,"h":1.2508,"l":1.2442,"c":1.2484},
{"i":485,"o":1.2484,"h":1.2532,"l":1.2466,"c":1.2508},
{"i":486,"o":1.2508,"h":1.2550,"l":1.2490,"c":1.2526},
{"i":487,"o":1.2526,"h":1.2568,"l":1.2508,"c":1.2544},
{"i":488,"o":1.2544,"h":1.2586,"l":1.2526,"c":1.2568},
{"i":489,"o":1.2568,"h":1.2586,"l":1.2502,"c":1.2526},
{"i":490,"o":1.2526,"h":1.2544,"l":1.2478,"c":1.2496},
{"i":491,"o":1.2496,"h":1.2538,"l":1.2484,"c":1.2520},
{"i":492,"o":1.2520,"h":1.2532,"l":1.2484,"c":1.2502}
],
"lbl": [
{"i":130.5,"p":1.4704,"t":"1.4668","d":"up"},
{"i":12,"p":1.3375,"t":"1.3348","d":"up"},
{"i":74,"p":1.2916,"t":"1.2952","d":"down"},
{"i":439.75,"p":1.1953,"t":"1.2003","d":"down"},
{"i":473.5,"p":1.2826,"t":"1.2806","d":"up"}
],
"hg": [{"p":1.4},{"p":1.3}],
"vg": [{"g":53},{"g":139},{"g":226},{"g":311},{"g":397},{"g":483}],
"one": [{}]
},
"encoding": {
"x": {"type": "quantitative", "scale": {"domain": [-2.5, 509.5], "nice": false, "zero": false}, "axis": null},
"y": {"type": "quantitative", "scale": {"domain": [1.1926, 1.48], "nice": false, "zero": false}, "axis": null}
},
"layer": [
{"data": {"name": "hg"}, "mark": {"type": "rule", "color": "#7a1414", "strokeWidth": 1, "strokeDash": [2, 2]},
 "encoding": {"y": {"field": "p", "type": "quantitative"}, "x": {"datum": -1}, "x2": {"datum": 509.5}}},
{"data": {"name": "vg"}, "mark": {"type": "rule", "color": "#7a1414", "strokeWidth": 1, "strokeDash": [2, 2]},
 "encoding": {"x": {"field": "g", "type": "quantitative"}, "y": {"datum": 1.48}, "y2": {"datum": 1.1926}}},
{"data": {"name": "one"}, "mark": {"type": "rule", "color": "#8c1c1c", "strokeWidth": 1.5},
 "encoding": {"y": {"datum": 1.48}, "x": {"datum": -1}, "x2": {"datum": 509.5}}},
{"data": {"name": "one"}, "mark": {"type": "rule", "color": "#8c1c1c", "strokeWidth": 1.5},
 "encoding": {"x": {"datum": -1}, "y": {"datum": 1.48}, "y2": {"datum": 1.1926}}},
{"data": {"name": "k"}, "mark": {"type": "rule", "strokeWidth": 1},
 "encoding": {"x": {"field": "i"}, "y": {"field": "l"}, "y2": {"field": "h"},
  "color": {"condition": {"test": "datum.c > datum.o", "value": "#e23a3a"}, "value": "#22e2e2"}}},
{"data": {"name": "k"}, "mark": {"type": "rule", "strokeWidth": 2},
 "encoding": {"x": {"field": "i"}, "y": {"field": "o"}, "y2": {"field": "c"},
  "color": {"condition": {"test": "datum.c > datum.o", "value": "#c82a2a"}, "value": "#1ee8e8"}}},
{"data": {"name": "one"}, "mark": {"type": "rule", "color": "#b8b8b8", "strokeWidth": 1},
 "encoding": {"x": {"datum": 111.3}, "y": {"datum": 1.48}, "x2": {"datum": 509.5}, "y2": {"datum": 1.2004}}},
{"data": {"name": "one"}, "mark": {"type": "rule", "color": "#a89400", "strokeWidth": 1.2},
 "encoding": {"x": {"datum": 503.5}, "x2": {"datum": 509.5}, "y": {"datum": 1.2502}}},
{"data": {"name": "one"}, "mark": {"type": "rule", "color": "#bdbdbd", "strokeWidth": 1},
 "encoding": {"x": {"datum": 492.5}, "y": {"datum": 1.1962}, "y2": {"datum": 1.1926}}},
{"data": {"name": "one"}, "mark": {"type": "point", "shape": "triangle-down", "filled": true, "color": "#c81010", "size": 28, "opacity": 1},
 "encoding": {"x": {"datum": 508.3}, "y": {"datum": 1.4785}}},
{"data": {"name": "lbl"}, "mark": {"type": "text", "font": "Liberation Sans", "fontSize": 8.5, "align": "center", "baseline": "middle"},
 "encoding": {"x": {"field": "i"}, "y": {"field": "p"}, "text": {"field": "t"},
  "color": {"field": "d", "type": "nominal", "scale": {"domain": ["up", "down"], "range": ["#e04444", "#22d8d8"]}, "legend": null}}},
{"data": {"name": "one"}, "mark": {"type": "text", "text": "500天", "font": "Noto Sans CJK SC", "fontSize": 8.5, "align": "left", "baseline": "middle", "color": "#d2c020"},
 "encoding": {"x": {"datum": -1}, "y": {"datum": 1.1965}}}
]
}
